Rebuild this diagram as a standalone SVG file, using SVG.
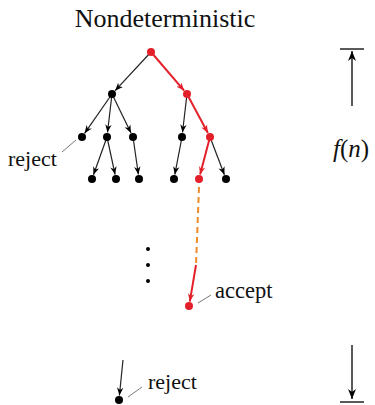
<svg xmlns="http://www.w3.org/2000/svg" width="375" height="405" viewBox="0 0 375 405">
<style>
.e{stroke:#222;stroke-width:1.2;fill:none;marker-end:url(#ab)}
.r{stroke:#e3202a;stroke-width:2;fill:none;marker-end:url(#ar)}
.d{stroke:#f08a2a;stroke-width:2;fill:none;stroke-dasharray:6 4}
.l{stroke:#777;stroke-width:1;fill:none}
.nb{fill:#000}
.nr{fill:#e3202a}
.ax{stroke:#000;stroke-width:1.3;fill:none}
</style>
<defs>
<marker id="ab" viewBox="0 0 10 8" refX="10" refY="4" markerWidth="8" markerHeight="7" markerUnits="userSpaceOnUse" orient="auto"><path d="M0,0 L10,4 L0,8 L3,4 z" fill="#000"/></marker>
<marker id="ar" viewBox="0 0 10 8" refX="10" refY="4" markerWidth="8" markerHeight="7" markerUnits="userSpaceOnUse" orient="auto"><path d="M0,0 L10,4 L0,8 L3,4 z" fill="#e3202a"/></marker>
<marker id="aa" viewBox="0 0 10 8" refX="10" refY="4" markerWidth="10" markerHeight="8" markerUnits="userSpaceOnUse" orient="auto"><path d="M0,0 L10,4 L0,8 L3,4 z" fill="#000"/></marker>
</defs>
<text x="165" y="27" font-size="26" fill="#111" style="font-family:'Liberation Serif'" text-anchor="middle">Nondeterministic</text>
<g id="connectors">
<line class="e" x1="151" y1="52" x2="115.1" y2="90.7"/>
<line class="r" x1="151" y1="52" x2="184.1" y2="90.6"/>
<line class="e" x1="112" y1="94" x2="84.6" y2="133.3"/>
<line class="e" x1="112" y1="94" x2="107.5" y2="132.5"/>
<line class="e" x1="112" y1="94" x2="131" y2="133"/>
<line class="e" x1="187" y1="94" x2="182.5" y2="132.5"/>
<line class="r" x1="187" y1="94" x2="207.9" y2="133"/>
<line class="e" x1="107" y1="137" x2="93.5" y2="174.8"/>
<line class="e" x1="107" y1="137" x2="115.1" y2="174.6"/>
<line class="e" x1="133" y1="137" x2="138.4" y2="174.5"/>
<line class="e" x1="182" y1="137" x2="174.8" y2="174.6"/>
<line class="r" x1="210" y1="137" x2="200.1" y2="174.6"/>
<line class="e" x1="210" y1="137" x2="224.4" y2="174.8"/>
<line class="d" x1="199" y1="187" x2="196" y2="265"/>
<line class="r" x1="196" y1="265" x2="189.8" y2="301.6"/>
<line class="e" x1="123" y1="360" x2="119.4" y2="395.5"/>
<line class="l" x1="62" y1="152" x2="76" y2="140"/>
<line class="l" x1="198" y1="303" x2="211" y2="295"/>
<line class="l" x1="128" y1="397" x2="142" y2="387"/>
</g>
<g id="n_root"><circle class="nr" cx="151" cy="52" r="4"/></g>
<g id="n_l"><circle class="nb" cx="112" cy="94" r="4"/></g>
<g id="n_r"><circle class="nr" cx="187" cy="94" r="4"/></g>
<g id="n_ll"><circle class="nb" cx="82" cy="137" r="4"/></g>
<g id="n_lm"><circle class="nb" cx="107" cy="137" r="4"/></g>
<g id="n_lr"><circle class="nb" cx="133" cy="137" r="4"/></g>
<g id="n_rl"><circle class="nb" cx="182" cy="137" r="4"/></g>
<g id="n_rr"><circle class="nr" cx="210" cy="137" r="4"/></g>
<g id="n_a"><circle class="nb" cx="92" cy="179" r="4"/></g>
<g id="n_b"><circle class="nb" cx="116" cy="179" r="4"/></g>
<g id="n_c"><circle class="nb" cx="139" cy="179" r="4"/></g>
<g id="n_d"><circle class="nb" cx="174" cy="179" r="4"/></g>
<g id="n_e"><circle class="nr" cx="199" cy="179" r="4"/></g>
<g id="n_f"><circle class="nb" cx="226" cy="179" r="4"/></g>
<g id="n_accept"><circle class="nr" cx="189" cy="306" r="4"/></g>
<g id="n_bottom"><circle class="nb" cx="119" cy="400" r="4"/></g>
<g id="vdots"><circle class="nb" cx="148" cy="249" r="2"/><circle class="nb" cx="148" cy="265" r="2"/><circle class="nb" cx="148" cy="281" r="2"/></g>
<text x="8" y="166" font-size="22" fill="#111" style="font-family:'Liberation Serif'">reject</text>
<text x="215" y="298" font-size="22.5" fill="#111" style="font-family:'Liberation Serif'">accept</text>
<text x="148" y="389" font-size="22" fill="#111" style="font-family:'Liberation Serif'">reject</text>
<g id="axis">
<line class="ax" x1="340" y1="49" x2="364" y2="49"/>
<line class="ax" x1="352" y1="106" x2="352" y2="51" marker-end="url(#aa)"/>
<text x="333" y="157" font-size="25" fill="#111" style="font-family:'Liberation Serif'"><tspan font-style="italic">f</tspan>(<tspan font-style="italic">n</tspan>)</text>
<line class="ax" x1="352" y1="345" x2="352" y2="399" marker-end="url(#aa)"/>
<line class="ax" x1="340" y1="402" x2="364" y2="402"/>
</g>
</svg>
